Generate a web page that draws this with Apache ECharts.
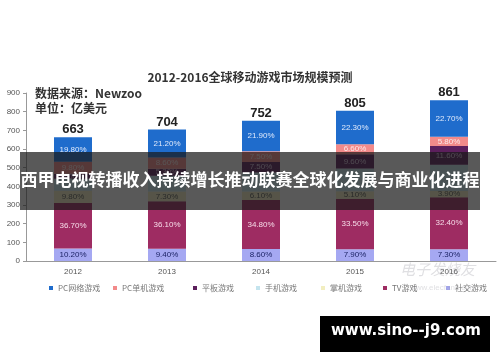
<!DOCTYPE html>
<html>
<head>
<meta charset="utf-8">
<script src="https://cdn.jsdelivr.net/npm/echarts@6/dist/echarts.min.js"></script>
<style>
html,body{margin:0;padding:0;background:#fff;}
#c{width:500px;height:362px;}
</style>
</head>
<body>
<div id="c"></div>
<script>
// ---- data (percent shares of yearly total, 亿美元) ----
var years = ['2012', '2013', '2014', '2015', '2016'];
var totals = [663, 704, 752, 805, 861];
var pcOnline = [19.8, 21.2, 21.9, 22.3, 22.7];   // PC网络游戏
var pcBox = [9.8, 8.6, 7.5, 6.6, 5.8];           // PC单机游戏
var tablet = [4.0, 5.3, 7.5, 9.6, 11.6];         // 平板游戏
var smartphone = [9.7, 12.1, 13.6, 15.0, 16.3];  // 手机游戏
var handheld = [9.8, 7.3, 6.1, 5.1, 3.9];        // 掌机游戏
var tv = [36.7, 36.1, 34.8, 33.5, 32.4];         // TV游戏
var social = [10.2, 9.4, 8.6, 7.9, 7.3];         // 社交游戏
var yTicks = [0, 100, 200, 300, 400, 500, 600, 700, 800, 900];

var names = ['PC网络游戏', 'PC单机游戏', '平板游戏', '手机游戏', '掌机游戏', 'TV游戏', '社交游戏'];

var chart = echarts.init(document.getElementById('c'), null, {renderer: 'canvas'});

function seg(name, pcts, color, labelColor, showLabel) {
  return {
    name: name,
    type: 'bar',
    stack: 'all',
    barWidth: 38,
    itemStyle: {color: color},
    label: {
      show: showLabel,
      position: 'inside',
      color: labelColor,
      fontSize: 8,
      fontFamily: 'Liberation Sans, Arial, sans-serif',
      formatter: function (p) { return pcts[p.dataIndex].toFixed(2) + '%'; }
    },
    data: pcts.map(function (v, i) { return totals[i] * v / 100; })
  };
}

var legendLefts = [44, 108, 188, 251, 316, 378, 441];

var option = {
  animation: false,
  backgroundColor: '#fff',
  grid: {left: 26, right: 4, top: 93, bottom: 101, containLabel: false},
  legend: names.map(function (n, i) {
    return {
      data: [n], left: legendLefts[i], top: 279,
      icon: 'rect', itemWidth: 4, itemHeight: 4, itemGap: 3,
      textStyle: {fontSize: 8, color: '#777', fontFamily: 'Noto Sans CJK SC'},
      selectedMode: false
    };
  }),
  xAxis: {
    type: 'category',
    data: years,
    axisLine: {lineStyle: {color: '#999'}},
    axisTick: {lineStyle: {color: '#999'}, length: 3},
    axisLabel: {fontSize: 8, color: '#555', margin: 7, fontFamily: 'Liberation Sans, Arial'}
  },
  yAxis: {
    type: 'value', min: yTicks[0], max: yTicks[yTicks.length - 1], interval: 100,
    splitLine: {show: false},
    axisLine: {show: true, lineStyle: {color: '#999'}},
    axisTick: {show: true, length: 3, lineStyle: {color: '#999'}},
    axisLabel: {fontSize: 8, color: '#555', margin: 6, fontFamily: 'Liberation Sans, Arial'}
  },
  series: [
    seg('社交游戏', social, '#a5a8f2', '#1d2466', true),
    seg('TV游戏', tv, '#9e2c62', '#f6dbe8', true),
    seg('掌机游戏', handheld, '#f2eec0', '#555', true),
    seg('手机游戏', smartphone, '#c4e4ee', '#567', false),
    seg('平板游戏', tablet, '#5c1f5c', '#d9c4dc', true),
    seg('PC单机游戏', pcBox, '#f28a8a', '#fde8e8', true),
    seg('PC网络游戏', pcOnline, '#1f6ccc', '#dfe9fb', true),
    {
      name: 'total', type: 'bar', stack: 'all', barWidth: 38,
      data: totals.map(function () { return 0; }),
      itemStyle: {color: 'transparent'},
      label: {
        show: true, position: 'top', distance: 1,
        fontSize: 13, fontWeight: 'bold', color: '#222',
        fontFamily: 'Liberation Sans, Arial',
        formatter: function (p) { return String(totals[p.dataIndex]); }
      }
    }
  ],
  graphic: [
    {type: 'text', left: 'center', top: 71, z: 10,
     style: {text: '2012-2016全球移动游戏市场规模预测', font: 'bold 12px "Noto Sans CJK SC"', fill: '#333'}},
    {type: 'text', left: 35, top: 87, z: 10,
     style: {text: '数据来源：Newzoo', font: 'bold 12px "Noto Sans CJK SC"', fill: '#333'}},
    {type: 'text', left: 35, top: 102, z: 10,
     style: {text: '单位：亿美元', font: 'bold 12px "Noto Sans CJK SC"', fill: '#333'}},
    {type: 'text', left: 400, top: 262, z: 5,
     style: {text: '电子发烧友', font: 'italic 15px "Noto Sans CJK SC"', fill: 'rgba(150,150,160,0.3)'}},
    {type: 'text', left: 410, top: 284, z: 5,
     style: {text: 'www.elecfans.com', font: '8px "Liberation Sans"', fill: 'rgba(150,150,160,0.3)'}},
    {type: 'rect', left: 20, top: 152, z: 100,
     shape: {width: 460, height: 58},
     style: {fill: 'rgba(25,25,25,0.72)'}},
    {type: 'text', left: 'center', top: 171, z: 101,
     style: {text: '西甲电视转播收入持续增长推动联赛全球化发展与商业化进程', font: 'bold 17px "Noto Sans CJK SC"', fill: '#fff'}},
    {type: 'rect', left: 320, top: 316, z: 100,
     shape: {width: 170, height: 36},
     style: {fill: '#000'}},
    {type: 'text', left: 331, top: 324, z: 101,
     style: {text: 'www.sino--j9.com', font: 'bold 15px "DejaVu Sans"', fill: '#fff'}}
  ]
};
chart.setOption(option);
</script>
</body>
</html>
